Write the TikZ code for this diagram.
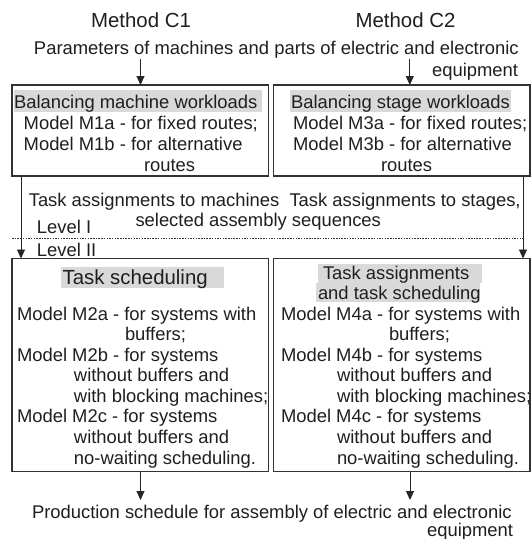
\documentclass[tikz,border=0pt]{standalone}
\usepackage{fontspec}
\setmainfont{Liberation Sans}
\usetikzlibrary{arrows.meta}
\begin{document}
\begin{tikzpicture}[x=1pt,y=-1pt,
  txt/.style={inner sep=0pt,outer sep=0pt,anchor=base west,text=black!88,font=\fontsize{18.4}{20}\selectfont},
  txtr/.style={txt,anchor=base east},
  big/.style={inner sep=0pt,outer sep=0pt,text=black!88,font=\fontsize{20.4}{22}\selectfont},
  box/.style={draw=black!80,line width=1.2pt,inner sep=0pt,outer sep=0pt},
  arr/.style={draw=black!85,line width=0.9pt,-{Triangle[width=8pt,length=9pt]}},
  hl/.style={fill=black!15}]
\useasboundingbox (0,0) rectangle (531,539);
\fill[white] (0,0) rectangle (531,539);

% headings
\node[big,anchor=base] (mc1) at (141,27.6) {Method C1};
\node[big,anchor=base] (mc2) at (405.5,27.6) {Method C2};
\node[txt] (par1) at (34,54) {Parameters of machines and parts of electric and electronic};
\node[txtr] (par2) at (518,76) {equipment};

% top boxes
\node[box,minimum width=256.5pt,minimum height=91pt] (b1) at (140.25,130.5) {};
\node[box,minimum width=256.4pt,minimum height=91pt] (b2) at (401.8,130.5) {};

\fill[hl] (13.5,89.5) rectangle (262,112);
\fill[hl] (289.5,89.5) rectangle (511,112);
\node[txt] (t11) at (14,108.2) {Balancing machine workloads};
\node[txt] (t12) at (23.7,129.4) {Model M1a - for fixed routes;};
\node[txt] (t13) at (23.7,150) {Model M1b - for alternative};
\node[txt] (t14) at (144,171) {routes};
\node[txt] (t21) at (291,108.2) {Balancing stage workloads};
\node[txt] (t22) at (293,129.4) {Model M3a - for fixed routes;};
\node[txt] (t23) at (293,150) {Model M3b - for alternative};
\node[txt] (t24) at (381,171) {routes};

% arrows into top boxes
\coordinate (s1) at (140.5,59);
\coordinate (s2) at (409.8,59);
\draw[arr] (s1) -- (s1 |- b1.north);
\draw[arr] (s2) -- (s2 |- b2.north);

% middle texts
\node[txt] (m1) at (28.8,206.6) {Task assignments to machines};
\node[txt] (m2) at (289.5,206.6) {Task assignments to stages,};
\node[txt] (m3) at (135.5,226.4) {selected assembly sequences};
\node[txt] (lv1) at (37,233) {Level I};
\node[txt] (lv2) at (37,256) {Level II};
\coordinate (d1) at (12,238.5);
\coordinate (d2) at (525,238.5);
\draw[black!80,line width=0.9pt,dash pattern=on 1.5pt off 1.2pt] (d1) -- (d2);

% bottom boxes
\node[box,minimum width=256.5pt,minimum height=213pt] (b3) at (140.25,365) {};
\node[box,minimum width=256.4pt,minimum height=213pt] (b4) at (401.8,365) {};

% level connectors
\coordinate (c1) at (21,0);
\coordinate (c2) at (523,0);
\draw[arr] (c1 |- b1.south) -- (c1 |- b3.north);
\draw[arr] (c2 |- b2.south) -- (c2 |- b4.north);

% bottom-left box
\fill[hl] (61,267) rectangle (223.5,287.5);
\node[big,anchor=base west] (t31) at (62.6,284.6) {Task scheduling};
\node[txt] (t32) at (17,320) {Model M2a - for systems with};
\node[txt] (t33) at (125,340.5) {buffers;};
\node[txt] (t34) at (17,361) {Model M2b - for systems};
\node[txt] (t35) at (74,381.5) {without buffers and};
\node[txt] (t36) at (74,402) {with blocking machines;};
\node[txt] (t37) at (17,422.5) {Model M2c - for systems};
\node[txt] (t38) at (74,443) {without buffers and};
\node[txt] (t39) at (74,464) {no-waiting scheduling.};

% bottom-right box
\fill[hl] (318,264) rectangle (482,283);
\fill[hl] (316,283) rectangle (480,302);
\node[txt] (t41) at (323,279.5) {Task assignments};
\node[txt] (t42) at (318,299.5) {and task scheduling};
\node[txt] (t43) at (281,320) {Model M4a - for systems with};
\node[txt] (t44) at (389,340.5) {buffers;};
\node[txt] (t45) at (281,361) {Model M4b - for systems};
\node[txt] (t46) at (337,381.5) {without buffers and};
\node[txt] (t47) at (337,402) {with blocking machines;};
\node[txt] (t48) at (281,422.5) {Model M4c - for systems};
\node[txt] (t49) at (337,443) {without buffers and};
\node[txt] (t4a) at (337,464) {no-waiting scheduling.};

% output
\node[txt] (out1) at (32,518.5) {Production schedule for assembly of electric and electronic};
\node[txtr] (out2) at (513,536) {equipment};
\coordinate (e1) at (140.5,500);
\coordinate (e2) at (410,500);
\draw[arr] (e1 |- b3.south) -- (e1);
\draw[arr] (e2 |- b4.south) -- (e2);
\end{tikzpicture}
\end{document}
